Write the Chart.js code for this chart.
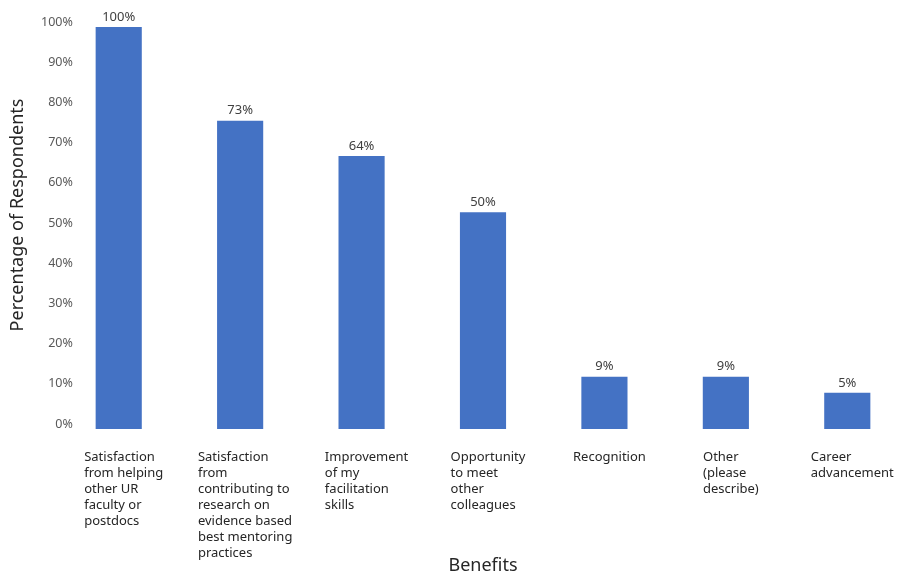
<!DOCTYPE html>
<html>
<head>
<meta charset="utf-8">
<script src="https://cdn.jsdelivr.net/npm/chart.js@4"></script>
<style>
  body { margin: 0; background: #fff; }
  #wrap { width: 914px; height: 578px; position: relative; }
</style>
</head>
<body>
<div id="wrap"><canvas id="benefitsChart"></canvas></div>
<script>
// categories (line breaks as in the picture)
const categories = [
  ["Satisfaction", "from helping", "other UR", "faculty or", "postdocs"],
  ["Satisfaction", "from", "contributing to", "research on", "evidence based", "best mentoring", "practices"],
  ["Improvement", "of my", "facilitation", "skills"],
  ["Opportunity", "to meet", "other", "colleagues"],
  ["Recognition"],
  ["Other", "(please", "describe)"],
  ["Career", "advancement"],
];
// bar heights as drawn against the axis
const barHeights = [100, 76.7, 67.9, 53.9, 13, 13, 9];
// percentages printed above the bars
const valueLabels = ["100%", "73%", "64%", "50%", "9%", "9%", "5%"];
const yTicks = [0, 10, 20, 30, 40, 50, 60, 70, 80, 90, 100];
const yTitle = "Percentage of Respondents";

const FONT = "'Noto Sans', 'Open Sans', sans-serif";

// 柱顶数值
const valueLabelPlugin = {
  id: "valueLabels",
  afterDatasetsDraw(chart) {
    const ctx = chart.ctx;
    const meta = chart.getDatasetMeta(0);
    ctx.save();
    ctx.font = "13px " + FONT;
    ctx.fillStyle = "#404040";
    ctx.textAlign = "center";
    ctx.textBaseline = "middle";
    meta.data.forEach(function (bar, i) {
      ctx.fillText(valueLabels[i], bar.x, bar.y - 10);
    });
    ctx.restore();
  },
};

// category labels: block centred under the bar, lines left aligned
const categoryLabelPlugin = {
  id: "categoryLabels",
  afterDraw(chart) {
    const ctx = chart.ctx;
    const xScale = chart.scales.x;
    const yScale = chart.scales.y;
    ctx.save();
    ctx.font = "13px " + FONT;
    ctx.fillStyle = "#262626";
    ctx.textAlign = "left";
    ctx.textBaseline = "middle";
    categories.forEach(function (lines, i) {
      const cx = xScale.getPixelForTick(i) + 5;
      const w = Math.max.apply(null, lines.map(function (l) { return ctx.measureText(l).width; }));
      const left = cx - w / 2;
      lines.forEach(function (line, k) {
        ctx.fillText(line, left, xScale.top + 28 + k * 16);
      });
    });
    // y axis title, sits a little above the axis middle
    ctx.font = "18px " + FONT;
    ctx.textAlign = "center";
    ctx.translate(18, (yScale.top + yScale.bottom) / 2 - 13);
    ctx.rotate(-Math.PI / 2);
    ctx.fillText(yTitle, 0, 0);
    ctx.restore();
  },
};

const ctx = document.getElementById("benefitsChart").getContext("2d");
const chart = new Chart(ctx, {
  type: "bar",
  data: {
    labels: categories,
    datasets: [
      {
        label: yTitle,
        data: barHeights,
        backgroundColor: "#4472C4",
        borderWidth: 0,
        barPercentage: 0.38,
        categoryPercentage: 1,
      },
    ],
  },
  options: {
    responsive: true,
    maintainAspectRatio: false,
    animation: false,
    layout: { padding: { top: 27, right: 6, bottom: 0, left: 0 } },
    scales: {
      x: {
        grid: { display: false, drawTicks: false },
        border: { display: false },
        ticks: { display: false },
        title: {
          display: true,
          text: "Benefits",
          color: "#262626",
          font: { family: FONT, size: 18 },
          padding: { top: 0, bottom: 1 },
        },
        afterFit(scale) {
          scale.height = 149;
        },
      },
      y: {
        min: 0,
        max: 100,
        grid: { display: false, drawTicks: false },
        border: { display: false },
        afterBuildTicks(scale) {
          scale.ticks = yTicks.map(function (v) { return { value: v }; });
        },
        ticks: {
          color: "#595959",
          font: { family: FONT, size: 12.5 },
          // mirrored so the labels are not clipped to the narrow axis box
          mirror: true,
          crossAlign: "far",
          padding: -17,
          labelOffset: -5,
          callback: function (value) {
            return value + "%";
          },
        },
        afterFit(scale) {
          scale.width = 58;
        },
      },
    },
    plugins: {
      legend: { display: false },
      tooltip: { enabled: false },
    },
  },
  plugins: [valueLabelPlugin, categoryLabelPlugin],
});
</script>
</body>
</html>
